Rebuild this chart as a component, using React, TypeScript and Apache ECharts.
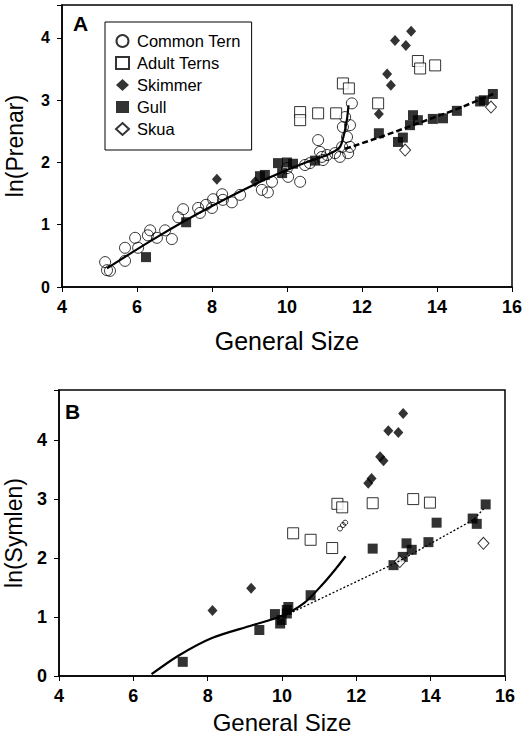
import React, { useEffect, useRef } from "react";
import * as echarts from "echarts";

// ---------- Panel A : ln(Prenar) ----------
const aCommonTern: number[][] = [
  [5.15, 0.4], [5.2, 0.27], [5.28, 0.26], [5.68, 0.42], [5.68, 0.63], [5.95, 0.79],
  [6.03, 0.63], [6.29, 0.83], [6.35, 0.91], [6.53, 0.79], [6.75, 0.91], [6.93, 0.77],
  [7.1, 1.12], [7.23, 1.25], [7.63, 1.27], [7.68, 1.19], [7.84, 1.32], [8.0, 1.27],
  [8.03, 1.41], [8.27, 1.49], [8.29, 1.4], [8.53, 1.36], [8.75, 1.48], [9.33, 1.56],
  [9.49, 1.52], [9.6, 1.69], [10.0, 1.91], [10.03, 1.77], [10.35, 1.69], [10.48, 1.96],
  [10.61, 1.99], [10.83, 2.36], [10.88, 2.17], [10.93, 2.09], [10.96, 2.04], [11.07, 2.12],
  [11.28, 2.15], [11.41, 2.09], [11.47, 2.25], [11.49, 2.57], [11.55, 2.73], [11.6, 2.41],
  [11.63, 2.15], [11.68, 2.25], [11.73, 2.95], [11.68, 2.6],
];
const aAdultTerns: number[][] = [
  [10.35, 2.81], [10.35, 2.68], [10.83, 2.79], [11.31, 2.79], [11.49, 3.27], [11.65, 3.19],
  [12.43, 2.95], [13.49, 3.63], [13.55, 3.51], [13.95, 3.56],
];
const aSkimmer: number[][] = [
  [8.13, 1.73], [9.15, 1.69], [12.45, 2.78], [12.67, 3.42], [12.77, 3.24], [12.88, 3.96],
  [13.17, 3.88], [13.31, 4.11],
];
const aGull: number[][] = [
  [6.24, 0.48], [7.31, 1.04], [9.28, 1.78], [9.41, 1.8], [9.76, 1.99], [10.0, 2.0],
  [9.87, 1.83], [10.16, 1.98], [10.75, 2.03], [12.45, 2.47], [12.96, 2.33], [13.09, 2.4],
  [13.28, 2.6], [13.36, 2.76], [13.49, 2.68], [13.89, 2.7], [14.16, 2.71], [14.53, 2.83],
  [15.15, 2.98], [15.25, 3.0], [15.49, 3.1],
];
const aSkua: number[][] = [[13.15, 2.2], [15.44, 2.89]];
const aSolidCurve: number[][] = [
  [5.2, 0.3], [6.5, 0.79], [8, 1.3], [9.5, 1.75], [10.5, 2.0],
  [11.1, 2.13], [11.4, 2.24], [11.52, 2.45], [11.6, 2.7], [11.64, 2.92],
];
const aDashedLine: number[][] = [
  [11.55, 2.22], [12.5, 2.41], [13.5, 2.63], [14.5, 2.85], [15.5, 3.1],
];

// ---------- Panel B : ln(Symlen) ----------
const bGull: number[][] = [
  [7.33, 0.24], [9.39, 0.78], [9.81, 1.05], [9.95, 0.89], [10.13, 1.12], [9.99, 0.95],
  [10.17, 1.17], [10.13, 1.06], [10.77, 1.37], [12.44, 2.16], [13.0, 1.88], [13.25, 2.02],
  [13.35, 2.25], [13.49, 2.14], [13.94, 2.27], [14.16, 2.6], [15.13, 2.67], [15.24, 2.58],
  [15.48, 2.91],
];
const bSkimmer: number[][] = [
  [8.13, 1.11], [9.17, 1.49], [12.32, 3.27], [12.41, 3.35], [12.64, 3.72], [12.73, 3.65],
  [12.86, 4.16], [13.13, 4.13], [13.26, 4.45],
];
const bAdultTerns: number[][] = [
  [10.3, 2.42], [10.77, 2.31], [11.35, 2.17], [11.49, 2.92], [11.62, 2.86], [12.44, 2.93],
  [13.53, 3.0], [13.98, 2.94],
];
const bSkua: number[][] = [[13.17, 1.94], [15.42, 2.25]];
const bCommonTern: number[][] = [[11.56, 2.5], [11.64, 2.56], [11.7, 2.6]];
const bSolidCurve: number[][] = [
  [6.49, 0.03], [7.2, 0.34], [8.1, 0.64], [9.2, 0.86], [10.0, 1.02],
  [10.6, 1.24], [11.1, 1.56], [11.45, 1.82], [11.71, 2.03],
];
const bDottedLine: number[][] = [
  [10.0, 1.0], [13.1, 1.93], [15.15, 2.65], [15.45, 2.85],
];

const xTicks = [4, 6, 8, 10, 12, 14, 16];
const yTicks = [0, 1, 2, 3, 4];

const FONT = "'Liberation Sans', Arial, Helvetica, sans-serif";

export default function App() {
  const ref = useRef<HTMLDivElement>(null);
  useEffect(() => {
    if (!ref.current) return;
    const chart = echarts.init(ref.current, undefined, { renderer: "svg" });

    const xAxisBase = (gridIndex: number, nameGap: number, nameSize: number) => ({
      type: "value" as const,
      gridIndex,
      min: xTicks[0],
      max: xTicks[xTicks.length - 1],
      interval: 2,
      name: "General Size",
      nameLocation: "middle" as const,
      nameGap,
      nameTextStyle: { fontSize: nameSize, color: "#000", fontFamily: FONT },
      axisLine: { onZero: false, lineStyle: { color: "#000", width: 1.5 } },
      axisTick: { length: 5, lineStyle: { color: "#000" } },
      axisLabel: { fontSize: 18, fontWeight: "bold" as const, color: "#000", fontFamily: FONT, margin: 11 },
      splitLine: { show: false },
    });
    const yAxisBase = (gridIndex: number, name: string, max: number, labelSize: number, gap: number) => ({
      type: "value" as const,
      gridIndex,
      min: yTicks[0],
      max,
      interval: 1,
      name,
      nameLocation: "middle" as const,
      nameGap: gap,
      nameTextStyle: { fontSize: 23, lineHeight: 23, color: "#000", fontFamily: FONT },
      axisLine: { lineStyle: { color: "#000", width: 1.5 } },
      axisTick: { length: 5, lineStyle: { color: "#000" } },
      axisLabel: {
        fontSize: labelSize, fontWeight: "bold" as const, color: "#000", fontFamily: FONT, margin: 12,
        formatter: (v: number) => (yTicks.includes(v) ? String(v) : ""),
      },
      splitLine: { show: false },
    });

    const circle = (name: string, data: number[][], xi: number, size = 11) => ({
      type: "scatter" as const, name, data, xAxisIndex: xi, yAxisIndex: xi,
      symbol: "circle", symbolSize: size,
      itemStyle: { color: "rgba(255,255,255,0)", borderColor: "#000", borderWidth: 1 },
      z: 3,
    });
    const square = (name: string, data: number[][], xi: number, filled: boolean) => ({
      type: "scatter" as const, name, data, xAxisIndex: xi, yAxisIndex: xi,
      symbol: "rect", symbolSize: filled ? 10 : 11,
      itemStyle: filled
        ? { color: "#000" }
        : { color: "#fff", borderColor: "#000", borderWidth: 1 },
      z: filled ? 4 : 3,
    });
    const diamond = (name: string, data: number[][], xi: number, filled: boolean) => ({
      type: "scatter" as const, name, data, xAxisIndex: xi, yAxisIndex: xi,
      symbol: "diamond", symbolSize: filled ? [10, 11] : [11, 12],
      itemStyle: filled
        ? { color: "#000" }
        : { color: "#fff", borderColor: "#000", borderWidth: 1 },
      z: 4,
    });
    const line = (data: number[][], xi: number, type: any, width: number, smooth: number) => ({
      type: "line" as const, data, xAxisIndex: xi, yAxisIndex: xi,
      showSymbol: false, symbol: "none", smooth,
      lineStyle: { color: "#000", width, type },
      z: 5, silent: true,
    });

    chart.setOption({
      animation: false,
      backgroundColor: "#fff",
      textStyle: { fontFamily: FONT },
      grid: [
        { left: 62, right: 12, top: 5, height: 282, show: true, borderColor: "#000", borderWidth: 1.5, backgroundColor: "transparent", containLabel: false, outerBoundsMode: "none" },
        { left: 59, right: 19, top: 390, height: 286, show: true, borderColor: "#000", borderWidth: 1.5, backgroundColor: "transparent", containLabel: false, outerBoundsMode: "none" },
      ],
      xAxis: [xAxisBase(0, 41, 25), xAxisBase(1, 34, 24)],
      yAxis: [yAxisBase(0, "ln(Prenar)", 4.53, 16, 36), yAxisBase(1, "ln(Symlen)", 4.85, 18, 34)],
      legend: {
        data: ["Common Tern", "Adult Terns", "Skimmer", "Gull", "Skua"],
        orient: "vertical",
        left: 105,
        top: 22,
        padding: [10, 11, 12, 10],
        itemGap: 4,
        itemWidth: 13,
        itemHeight: 12,
        backgroundColor: "#fff",
        borderColor: "#000",
        borderWidth: 1,
        textStyle: { fontSize: 16.5, lineHeight: 18, color: "#000", fontFamily: FONT, padding: [0, 0, 0, 3] },
        selectedMode: false,
      },
      graphic: [
        { type: "text", left: 73, top: 13, style: { text: "A", fontSize: 21, fontWeight: "bold", fill: "#000", fontFamily: FONT } },
        { type: "text", left: 65, top: 401, style: { text: "B", fontSize: 21, fontWeight: "bold", fill: "#000", fontFamily: FONT } },
      ],
      series: [
        circle("Common Tern", aCommonTern, 0),
        square("Adult Terns", aAdultTerns, 0, false),
        diamond("Skimmer", aSkimmer, 0, true),
        square("Gull", aGull, 0, true),
        diamond("Skua", aSkua, 0, false),
        line(aSolidCurve, 0, "solid", 2.2, 0.3),
        line(aDashedLine, 0, [6, 3], 2.5, 0),
        circle("Common Tern", bCommonTern, 1, 5),
        square("Adult Terns", bAdultTerns, 1, false),
        diamond("Skimmer", bSkimmer, 1, true),
        square("Gull", bGull, 1, true),
        diamond("Skua", bSkua, 1, false),
        line(bSolidCurve, 1, "solid", 2.2, 0.3),
        line(bDottedLine, 1, [2, 2], 1.3, 0),
      ],
    });
    return () => chart.dispose();
  }, []);
  return <div ref={ref} style={{ width: 524, height: 744, position: "absolute", left: 0, top: 0 }} />;
}
